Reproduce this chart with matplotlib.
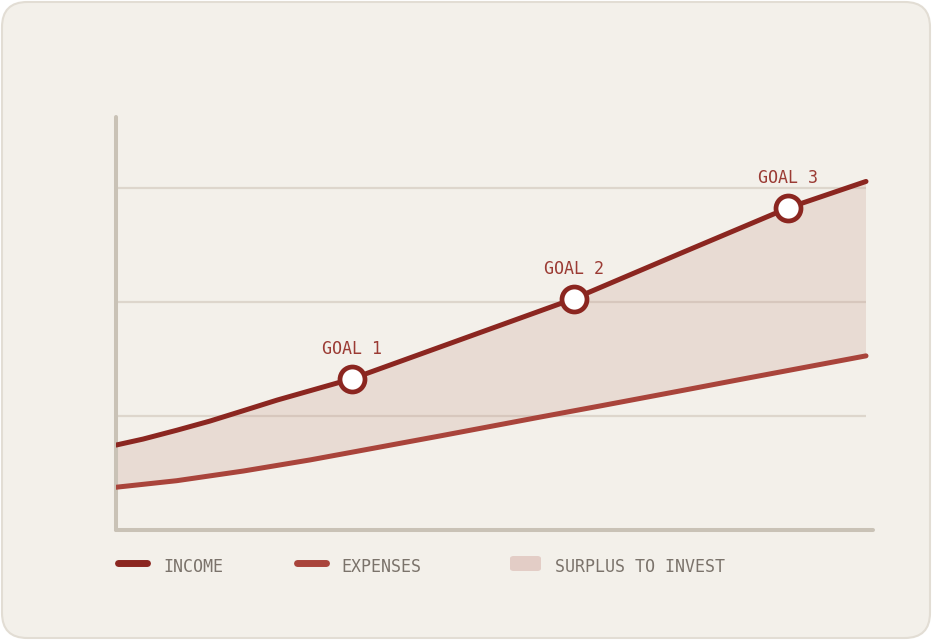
import matplotlib
matplotlib.use("Agg")
import matplotlib.pyplot as plt
from matplotlib.patches import FancyBboxPatch
from matplotlib.lines import Line2D

# years from start
years_income = [0, 0.36, 0.81, 1.25, 1.69, 2.15, 3.14, 6.10, 7.52, 8.96, 10.0]
income = [29.8, 31.9, 35.0, 38.2, 41.8, 45.6, 53.0, 81.1, 97.0, 113.0, 122.3]

years_expenses = [0, 0.81, 1.70, 2.59, 3.25, 4.32, 5.65, 6.45, 7.52, 8.32, 10.0]
expenses = [15.0, 17.3, 20.7, 24.6, 27.8, 33.0, 39.6, 43.5, 48.8, 52.8, 61.1]

goal_years = [3.14, 6.10, 8.96]
goal_values = [53.0, 81.1, 113.0]
goal_labels = ["GOAL 1", "GOAL 2", "GOAL 3"]

grid_values = [40, 80, 120]
legend_labels = ["INCOME", "EXPENSES", "SURPLUS TO INVEST"]

BG = "#f3f0ea"
INCOME_C = "#8b2620"
EXPENSE_C = "#a9443b"
FILL_C = "#c99e92"
AXIS_C = "#c9c2b6"
GRID_C = "#ddd6cc"
LABEL_C = "#9b3b34"
TEXT_C = "#7b736b"
MONO = "DejaVu Sans Mono"

W, H = 932, 640
fig = plt.figure(figsize=(W / 100, H / 100), dpi=100, facecolor="white")


def fx(px):
    return px / W


def fy(py):
    return 1 - py / H


# card background
card = FancyBboxPatch((fx(2), fy(638)), fx(928), 636 / H,
                      boxstyle="round,pad=0,rounding_size=0.027",
                      transform=fig.transFigure, facecolor=BG, edgecolor="#e2ddd4",
                      linewidth=1.5, mutation_aspect=W / H, zorder=0)
fig.add_artist(card)

# axes: x 0 -> px 116, 1 year = 75 px ; y 0 -> px 530, 40 = 114 px
x_max = (873 - 116) / 75
y_max = (530 - 117) / 114 * 40
ax = fig.add_axes([fx(116), fy(530), fx(116 + 75 * x_max) - fx(116), (530 - 117) / H])
ax.set_xlim(0, x_max)
ax.set_ylim(0, y_max)
ax.patch.set_visible(False)
ax.set_xticks([])
ax.set_yticks([])
for side in ("top", "right"):
    ax.spines[side].set_visible(False)
for side in ("left", "bottom"):
    ax.spines[side].set_color(AXIS_C)
    ax.spines[side].set_linewidth(2.9)
    ax.spines[side].set_capstyle("round")
    ax.spines[side].set_zorder(2)

ax.hlines(grid_values, 0, 10, color=GRID_C, linewidth=1.6, zorder=0.5)

# surplus band between the two curves
ax.fill(years_income + years_expenses[::-1], income + expenses[::-1],
        color=FILL_C, alpha=0.25, linewidth=0, zorder=1)

ax.plot(years_expenses, expenses, color=EXPENSE_C, linewidth=3.6,
        solid_capstyle="round", solid_joinstyle="round", zorder=3)
ax.plot(years_income, income, color=INCOME_C, linewidth=3.6,
        solid_capstyle="round", solid_joinstyle="round", zorder=3)

ax.plot(goal_years, goal_values, linestyle="none", marker="o", markersize=18,
        markerfacecolor="white", markeredgecolor=INCOME_C, markeredgewidth=3.4, zorder=4)
for gx, gy, lab in zip(goal_years, goal_values, goal_labels):
    ax.annotate(lab, (gx, gy), xytext=(0, 18), textcoords="offset points",
                ha="center", va="baseline", color=LABEL_C, fontsize=12,
                family=MONO, annotation_clip=False)

# legend, drawn by hand in figure space
for x0, color in [(118, INCOME_C), (297, EXPENSE_C)]:
    fig.add_artist(Line2D([fx(x0), fx(x0 + 29)], [fy(563), fy(563)], color=color,
                          linewidth=5, solid_capstyle="round", transform=fig.transFigure))
swatch = FancyBboxPatch((fx(510), fy(571)), fx(31), 15 / H,
                        boxstyle="round,pad=0,rounding_size=0.004",
                        transform=fig.transFigure, facecolor="#e3cdc6", edgecolor="none")
fig.add_artist(swatch)
for x0, lab in zip([163, 341, 555], legend_labels):
    fig.text(fx(x0), fy(572), lab, ha="left", va="baseline", color=TEXT_C,
             fontsize=12, family=MONO)

fig.savefig("out.png", dpi=100, facecolor="white")
